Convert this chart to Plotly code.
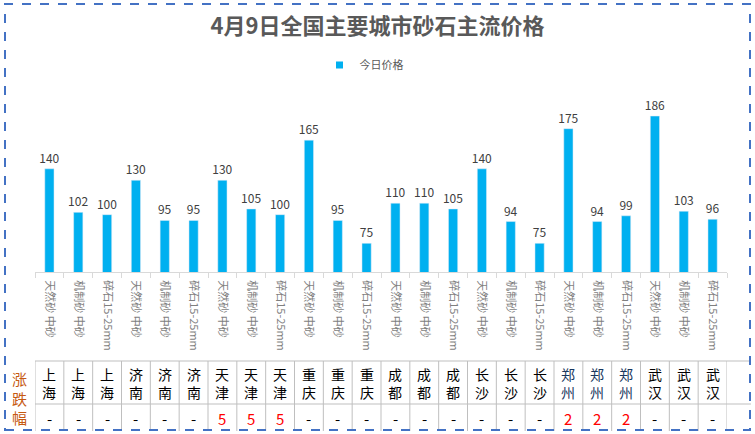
import plotly.graph_objects as go

title_text = "4月9日全国主要城市砂石主流价格"
series_name = "今日价格"
products = ["天然砂 中砂", "机制砂 中砂", "碎石15-25mm"] * 8
cities = ["上海"] * 3 + ["济南"] * 3 + ["天津"] * 3 + ["重庆"] * 3 + \
         ["成都"] * 3 + ["长沙"] * 3 + ["郑州"] * 3 + ["武汉"] * 3
prices = [140, 102, 100, 130, 95, 95, 130, 105, 100, 165, 95, 75,
          110, 110, 105, 140, 94, 75, 175, 94, 99, 186, 103, 96]
changes = ["-", "-", "-", "-", "-", "-", "5", "5", "5", "-", "-", "-",
           "-", "-", "-", "-", "-", "-", "2", "2", "2", "-", "-", "-"]
row_header = "涨跌幅"

FONT = "Noto Sans CJK SC"
W, H = 755, 434
L, R, T, B = 35, 28, 100, 162
pw, ph = W - L - R, H - T - B

def px_x(p):  # pixel -> paper x
    return (p - L) / pw

def px_y(p):  # pixel -> paper y
    return (H - B - p) / ph

n = len(prices)
xs = list(range(n))

fig = go.Figure()
fig.add_trace(go.Bar(
    x=xs, y=prices, name=series_name, width=0.32,
    marker=dict(color="#00B0F0"),
    text=[str(v) for v in prices], textposition="outside",
    textfont=dict(family=FONT, size=12, color="#404040"),
    constraintext="none",
    cliponaxis=False, showlegend=False,
))
# legend entry (small square marker like the reference)
fig.add_trace(go.Scatter(
    x=[None], y=[None], mode="markers", name=series_name,
    marker=dict(symbol="square", size=7, color="#00B0F0"),
    showlegend=True,
))

shapes = []
for yp in (361, 404):
    shapes.append(dict(type="line", xref="paper", yref="paper",
                       x0=0, x1=px_x(751), y0=px_y(yp), y1=px_y(yp),
                       line=dict(color="#BFBFBF", width=1)))
for i in range(n + 1):
    shapes.append(dict(type="line", xref="x", yref="paper",
                       x0=i - 0.5, x1=i - 0.5, y0=px_y(361), y1=px_y(431),
                       line=dict(color="#BFBFBF", width=1)))
shapes.append(dict(type="rect", xref="paper", yref="paper",
                   x0=px_x(5), x1=px_x(750), y0=px_y(430), y1=px_y(4),
                   line=dict(color="#4472C4", width=2, dash="dash"),
                   fillcolor="rgba(0,0,0,0)", layer="above"))

annotations = []
for i, (c, ch) in enumerate(zip(cities, changes)):
    ccolor = "#17375E" if c == "郑州" else "#000000"
    annotations.append(dict(x=i, y=px_y(383), xref="x", yref="paper",
                            text=c[0] + "<br>" + c[1], showarrow=False,
                            font=dict(family=FONT, size=14, color=ccolor),
                            yanchor="middle", xanchor="center"))
    annotations.append(dict(x=i, y=px_y(418), xref="x", yref="paper",
                            text=ch, showarrow=False,
                            font=dict(family=FONT, size=15,
                                      color="#FF0000" if ch != "-" else "#000000"),
                            yanchor="middle", xanchor="center"))
annotations.append(dict(x=px_x(19), y=px_y(398), xref="paper", yref="paper",
                        text="<br>".join(row_header), showarrow=False,
                        font=dict(family=FONT, size=15, color="#C65911"),
                        yanchor="middle", xanchor="center"))

fig.update_layout(
    width=W, height=H,
    margin=dict(l=L, r=R, t=T, b=B, autoexpand=False),
    paper_bgcolor="white", plot_bgcolor="white",
    title=dict(text="<b>" + title_text + "</b>", x=0.5, xanchor="center",
               y=1 - 26 / H, yanchor="middle",
               font=dict(family=FONT, size=22, color="#595959")),
    legend=dict(orientation="h", x=px_x(364), xanchor="center",
                y=px_y(65), yanchor="middle",
                font=dict(family=FONT, size=11, color="#595959"),
                itemwidth=30, bgcolor="rgba(0,0,0,0)"),
    xaxis=dict(range=[-0.5, n - 0.5], tickmode="array", tickvals=xs,
               ticktext=products, tickangle=90, ticks="",
               ticklabelstandoff=5, automargin=False,
               tickfont=dict(family=FONT, size=11, color="#7F7F7F"),
               showline=True, linecolor="#D9D9D9", linewidth=1,
               showgrid=False, zeroline=False,
               minor=dict(ticks="outside", tickmode="linear", tick0=-0.5,
                          dtick=1, ticklen=5, tickcolor="#D9D9D9",
                          showgrid=False)),
    yaxis=dict(range=[50, 200], visible=False, showgrid=False,
               automargin=False),
    shapes=shapes, annotations=annotations,
)

fig.write_html(
    "out.html",
    config={"displayModeBar": False},
    post_script="document.body.style.margin='0';document.body.style.padding='0';",
)
